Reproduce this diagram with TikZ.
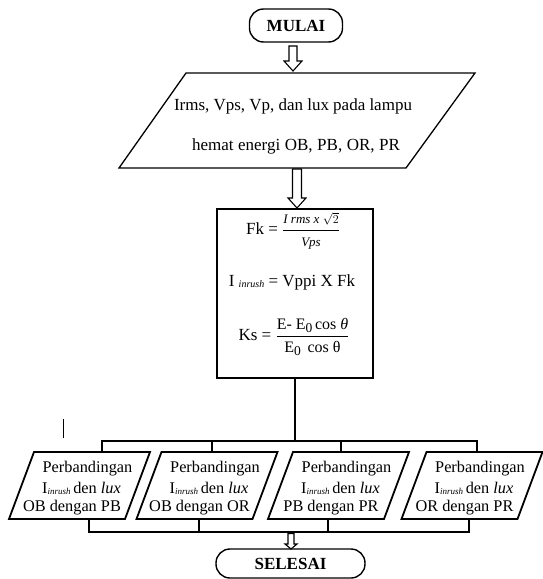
\documentclass[tikz,border=0pt]{standalone}
\usepackage{fontspec}
\setmainfont{Liberation Serif}
\usetikzlibrary{calc}
\newcommand\blockarr[5]{%
  \draw[arrowline] let \p1=(#1), \p2=(#2) in
    (\x1-#3,\y1) -- (\x1+#3,\y1) -- (\x1+#3,\y2+#5) -- (\x1+#4,\y2+#5) --
    (\x1,\y2) -- (\x1-#4,\y2+#5) -- (\x1-#3,\y2+#5) -- cycle;}
\newcommand\cmpbox[3]{%
  \coordinate (#1) at (#2,485.5);
  \draw[boxl] ($(#1)+(-45.5,-33.5)$) -- ($(#1)+(70.5,-33.5)$) --
    ($(#1)+(45.5,33.5)$) -- ($(#1)+(-70.5,33.5)$) -- cycle;
  \node[btxt] (#1-a) at ($(#1)+(8,-16.5)$) {Perbandingan};
  \node[btxt] (#1-b) at ($(#1)+(2,3)$) {I\raisebox{-1.5pt}{\fontsize{9}{10}\selectfont\itshape inrush}\,den \textit{lux}};
  \node[btxt] (#1-c) at ($(#1)+(-7.5,22)$) {#3};
}
\begin{document}
\begin{tikzpicture}[x=1pt,y=-1pt,
  outl/.style={draw=black, line width=1.4pt},
  boxl/.style={draw=black, line width=1.8pt, line join=miter},
  conn/.style={draw=black, line width=2.8pt, line join=miter},
  arrowline/.style={draw=black, line width=1.1pt, fill=white, line join=miter},
  term/.style={outl, rounded corners=14pt, font=\fontsize{17}{20}\selectfont\bfseries, inner sep=0pt},
  txt/.style={inner sep=0pt, font=\fontsize{17}{20}\selectfont},
  btxt/.style={inner sep=0pt, font=\fontsize{16.3}{19}\selectfont},
]
\useasboundingbox (0,0) rectangle (543,579);

% start
\node[term, minimum width=93pt, minimum height=33pt] (mulai) at (296,25.5) {MULAI};

% input
\draw[outl, line width=1.3pt, line join=miter] (186,73) -- (475,73) -- (406,168) -- (119,168) -- cycle;
\node[txt] (input1) at (293,106) {\makebox[238pt][s]{Irms, Vps, Vp, dan lux pada lampu}};
\node[txt] (input2) at (296,146) {\makebox[208pt][s]{hemat energi OB, PB, OR, PR}};
\coordinate (a1s) at (293,46);
\coordinate (a1e) at (293,71);
\blockarr{a1s}{a1e}{4pt}{9pt}{10pt}

% process
\node[draw=black, line width=1.6pt, minimum width=156pt, minimum height=169pt, inner sep=0pt] (proc) at (295,293.5) {};
\coordinate (a2s) at (297,169);
\coordinate (a2e) at (297,208);
\blockarr{a2s}{a2e}{4.5pt}{9pt}{10pt}

\node[txt] (f1) at (293,231) {Fk = $\displaystyle\frac{\mbox{\fontsize{13}{14}\selectfont\itshape I rms x $\sqrt{2}$}}{\mbox{\fontsize{13}{14}\selectfont\itshape Vps}}$};
\node[txt] (f2) at (292,282) {I\raisebox{-1.5pt}{\fontsize{10}{12}\selectfont\itshape\, inrush} = Vppi X Fk};
\node[txt] (f3) at (294,337) {Ks = $\displaystyle\frac{\mbox{\fontsize{16}{17}\selectfont E- E\raisebox{-3pt}{\fontsize{13.5}{14}\selectfont 0}\,cos \textit{θ}}}{\mbox{\fontsize{16}{17}\selectfont E\raisebox{-3pt}{\fontsize{13.5}{14}\selectfont 0}\, cos θ}}$};

% comparison boxes
\cmpbox{c1}{79.5}{OB dengan PB}
\cmpbox{c2}{207}{OB dengan OR}
\cmpbox{c3}{338.5}{PB dengan PR}
\cmpbox{c4}{472}{OR dengan PR}

% upper bus
\coordinate (busy) at (0,441);
\coordinate (b1t) at (102,452);
\coordinate (b2t) at (212,452);
\coordinate (b3t) at (341,452);
\coordinate (b4t) at (477,452);
\draw[conn] (proc.south) -- (proc.south |- busy);
\draw[conn] (b1t) -- (b1t |- busy) -- (b4t |- busy) -- (b4t);
\draw[conn] (b2t) -- (b2t |- busy);
\draw[conn] (b3t) -- (b3t |- busy);

% lower bus
\coordinate (lowy) at (0,532);
\coordinate (b1b) at (89,519);
\coordinate (b2b) at (199,519);
\coordinate (b3b) at (328,519);
\coordinate (b4b) at (469,519);
\draw[conn] (b1b) -- (b1b |- lowy) -- (b4b |- lowy) -- (b4b);
\draw[conn] (b2b) -- (b2b |- lowy);
\draw[conn] (b3b) -- (b3b |- lowy);

% end
\node[term, minimum width=149pt, minimum height=29pt] (selesai) at (290.5,563.5) {SELESAI};
\coordinate (a3s) at (291,533.5);
\coordinate (a3e) at (291,549);
\blockarr{a3s}{a3e}{3pt}{6pt}{5pt}

% stray cursor mark
\coordinate (cur1) at (63,419);
\coordinate (cur2) at (63,438);
\draw[line width=0.9pt] (cur1) -- (cur2);
\end{tikzpicture}
\end{document}
